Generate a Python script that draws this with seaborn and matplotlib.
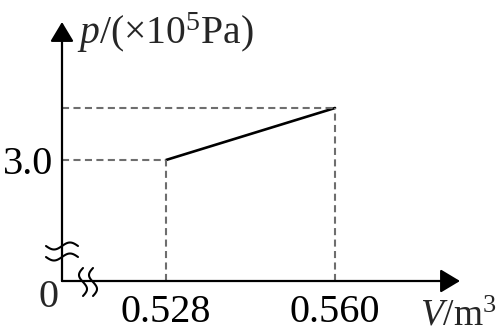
import numpy as np
import pandas as pd
import matplotlib
matplotlib.use("Agg")
import matplotlib.pyplot as plt
import seaborn as sns

# data
volume = [0.528, 0.560]          # V / m^3
pressure = [3.0, 3.4]            # p / (x10^5 Pa)
x_tick_labels = ["0.528", "0.560"]
y_tick_labels = ["3.0"]
x_label = r"$\mathit{V}\mathrm{/m^3}$"
y_label = r"$\mathit{p}\mathrm{/(\times10^5Pa)}$"

sns.set_theme(style="white")
plt.rcParams["font.family"] = ["Liberation Serif", "DejaVu Serif"]
plt.rcParams["mathtext.fontset"] = "custom"
plt.rcParams["mathtext.rm"] = "Liberation Serif"
plt.rcParams["mathtext.it"] = "Liberation Serif:italic"

W, H = 500, 334
fig = plt.figure(figsize=(5, 3.34), dpi=100)
L, R, B, T = 62, 460, 281, 22
ax = fig.add_axes([L / W, 1 - B / H, (R - L) / W, (B - T) / H])
ax.patch.set_alpha(0)

df = pd.DataFrame({"V": volume, "p": pressure})
sns.lineplot(data=df, x="V", y="p", ax=ax, color="black", lw=1.9)

xmin = volume[0] - 104 * (volume[1] - volume[0]) / 169
xmax = volume[1] + 125 * (volume[1] - volume[0]) / 169
ymin = pressure[0] - 121 * (pressure[1] - pressure[0]) / 52
ymax = pressure[1] + 86 * (pressure[1] - pressure[0]) / 52
ax.set_xlim(xmin, xmax)
ax.set_ylim(ymin, ymax)

dash = dict(color="#6e6e6e", lw=1.5, ls=(0, (3.4, 2.1)))
for v, p in zip(volume, pressure):
    ax.plot([xmin, v], [p, p], **dash)
    ax.plot([v, v], [ymin, p], **dash)

for s in ax.spines.values():
    s.set_visible(False)
ax.set_xticks(volume)
ax.set_xticklabels(x_tick_labels)
ax.set_yticks(pressure[:1])
ax.set_yticklabels(y_tick_labels)
ax.tick_params(axis="both", length=0, labelsize=29, colors="black")
ax.tick_params(axis="x", pad=9)
ax.tick_params(axis="y", pad=6)
ax.set_xlabel("")
ax.set_ylabel("")
ax.grid(False)

arrow = dict(arrowstyle="-|>,head_length=0.6,head_width=0.36", color="black",
             lw=1.6, mutation_scale=20, shrinkA=0, shrinkB=0)
ax.annotate("", xy=(0, 1), xytext=(0, 0), xycoords="axes fraction", arrowprops=arrow)
ax.annotate("", xy=(1, 0), xytext=(0, 0), xycoords="axes fraction", arrowprops=arrow)

# overlay in pixel coordinates for decorations & labels
ov = fig.add_axes([0, 0, 1, 1], zorder=5)
ov.set_xlim(0, W)
ov.set_ylim(H, 0)
ov.axis("off")
ov.patch.set_alpha(0)

ov.text(77, 44, y_label, fontsize=28.5, ha="left", va="baseline")
ov.text(420, 326, x_label, fontsize=27, ha="left", va="baseline")
ov.text(48, 307, "0", fontsize=29, ha="center", va="baseline")

# break marks on y axis (tildes)
t = np.linspace(-1, 1, 60)
for yc in (246, 257):
    ov.plot(62 + 16 * t, yc - 3.5 * np.sin(np.pi * t), color="black", lw=1.5)
# break marks on x axis (S shapes)
for xc in (83, 93):
    ov.plot(xc + 4 * np.sin(np.pi * t), 282 + 14 * t, color="black", lw=1.5)

fig.savefig("out.png", dpi=100)
